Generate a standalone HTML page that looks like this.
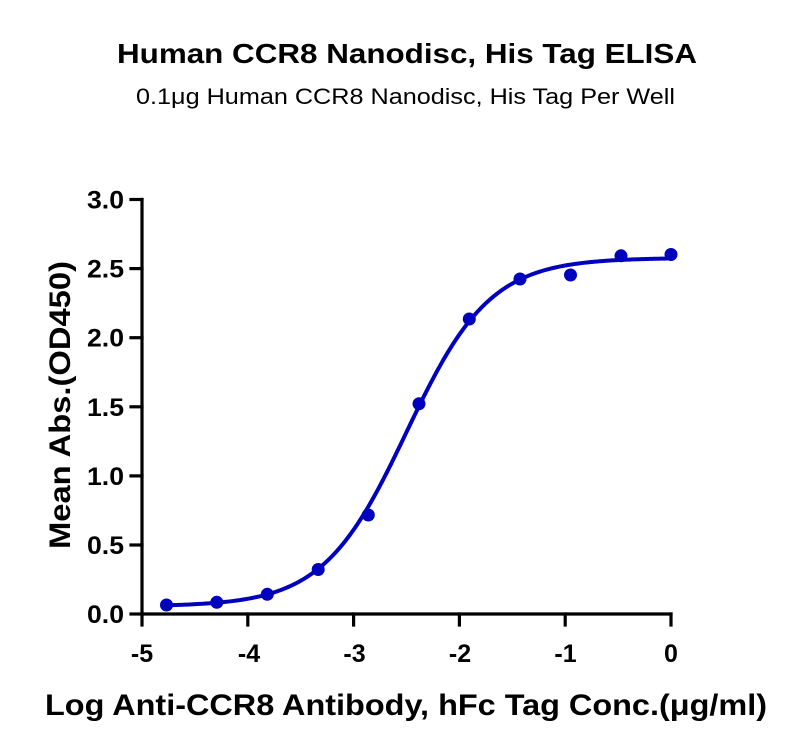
<!DOCTYPE html>
<html>
<head>
<meta charset="utf-8">
<style>
  html, body { margin:0; padding:0; background:#fff; }
  svg { display:block; }
  text { font-family: "Liberation Sans", "DejaVu Sans", sans-serif; fill:#000; }
</style>
</head>
<body>
<svg id="chart" width="800" height="752" viewBox="0 0 800 752" xmlns="http://www.w3.org/2000/svg">
  <rect width="800" height="752" fill="#fff"/>
  <!-- Titles -->
  <text x="407" y="63" text-anchor="middle" font-size="27.5" font-weight="bold" textLength="580" lengthAdjust="spacingAndGlyphs">Human CCR8 Nanodisc, His Tag ELISA</text>
  <text x="405.5" y="104" text-anchor="middle" font-size="22.5" textLength="539" lengthAdjust="spacingAndGlyphs">0.1μg Human CCR8 Nanodisc, His Tag Per Well</text>

  <!-- Axes -->
  <g stroke="#000" stroke-width="3.2" fill="none" stroke-linecap="square">
    <line x1="142" y1="199.5" x2="142" y2="614"/>
    <line x1="142" y1="614" x2="671" y2="614"/>
    <!-- y ticks -->
    <line x1="131" y1="199.5" x2="142" y2="199.5"/>
    <line x1="131" y1="268.6" x2="142" y2="268.6"/>
    <line x1="131" y1="337.7" x2="142" y2="337.7"/>
    <line x1="131" y1="406.8" x2="142" y2="406.8"/>
    <line x1="131" y1="475.9" x2="142" y2="475.9"/>
    <line x1="131" y1="545" x2="142" y2="545"/>
    <line x1="131" y1="614" x2="142" y2="614"/>
    <!-- x ticks -->
    <line x1="142" y1="614" x2="142" y2="625"/>
    <line x1="247.8" y1="614" x2="247.8" y2="625"/>
    <line x1="353.6" y1="614" x2="353.6" y2="625"/>
    <line x1="459.4" y1="614" x2="459.4" y2="625"/>
    <line x1="565.2" y1="614" x2="565.2" y2="625"/>
    <line x1="671" y1="614" x2="671" y2="625"/>
  </g>

  <!-- y tick labels -->
  <g font-size="25" font-weight="bold" text-anchor="end">
    <text x="124" y="208.5" textLength="37" lengthAdjust="spacingAndGlyphs">3.0</text>
    <text x="124" y="277.6" textLength="37" lengthAdjust="spacingAndGlyphs">2.5</text>
    <text x="124" y="346.7" textLength="37" lengthAdjust="spacingAndGlyphs">2.0</text>
    <text x="124" y="415.8" textLength="37" lengthAdjust="spacingAndGlyphs">1.5</text>
    <text x="124" y="484.9" textLength="37" lengthAdjust="spacingAndGlyphs">1.0</text>
    <text x="124" y="554" textLength="37" lengthAdjust="spacingAndGlyphs">0.5</text>
    <text x="124" y="623" textLength="37" lengthAdjust="spacingAndGlyphs">0.0</text>
  </g>
  <!-- x tick labels -->
  <g font-size="25" font-weight="bold" text-anchor="middle">
    <text x="142" y="662">-5</text>
    <text x="249" y="662">-4</text>
    <text x="354.5" y="662">-3</text>
    <text x="460" y="662">-2</text>
    <text x="565.5" y="662">-1</text>
    <text x="671" y="662">0</text>
  </g>

  <!-- axis labels -->
  <text x="406" y="715" text-anchor="middle" font-size="30" font-weight="bold" textLength="722" lengthAdjust="spacingAndGlyphs">Log Anti-CCR8 Antibody, hFc Tag Conc.(μg/ml)</text>
  <text transform="translate(70,405) rotate(-90)" text-anchor="middle" font-size="30" font-weight="bold" textLength="288" lengthAdjust="spacingAndGlyphs">Mean Abs.(OD450)</text>

  <!-- curve -->
  <path id="curve" d="" fill="none" stroke="#0000BF" stroke-width="4" stroke-linejoin="round" stroke-linecap="round"/>

  <!-- points -->
  <g fill="#0000BF">
    <circle cx="166.5" cy="605" r="6.5"/>
    <circle cx="216.8" cy="602.3" r="6.5"/>
    <circle cx="267.3" cy="594.3" r="6.5"/>
    <circle cx="318.2" cy="569.5" r="6.5"/>
    <circle cx="368.3" cy="515" r="6.5"/>
    <circle cx="419" cy="403.8" r="6.5"/>
    <circle cx="469.3" cy="319" r="6.5"/>
    <circle cx="520" cy="279" r="6.5"/>
    <circle cx="570.5" cy="275" r="6.5"/>
    <circle cx="621" cy="255.8" r="6.5"/>
    <circle cx="671" cy="254.5" r="6.5"/>
  </g>
</svg>
<script>
(function(){
  var B=0.055, T=2.575, c=-2.5, h=1.1;
  function X(v){ return 671 + v*105.8; }
  function Y(v){ return 614 - v*138.3; }
  var d="", x0=-4.771, x1=0, n=240;
  for(var i=0;i<=n;i++){
    var x = x0 + (x1-x0)*i/n;
    var y = B + (T-B)/(1+Math.pow(10,(c-x)*h));
    d += (i===0?"M":"L") + X(x).toFixed(2) + " " + Y(y).toFixed(2) + " ";
  }
  document.getElementById("curve").setAttribute("d", d);
})();
</script>
</body>
</html>
